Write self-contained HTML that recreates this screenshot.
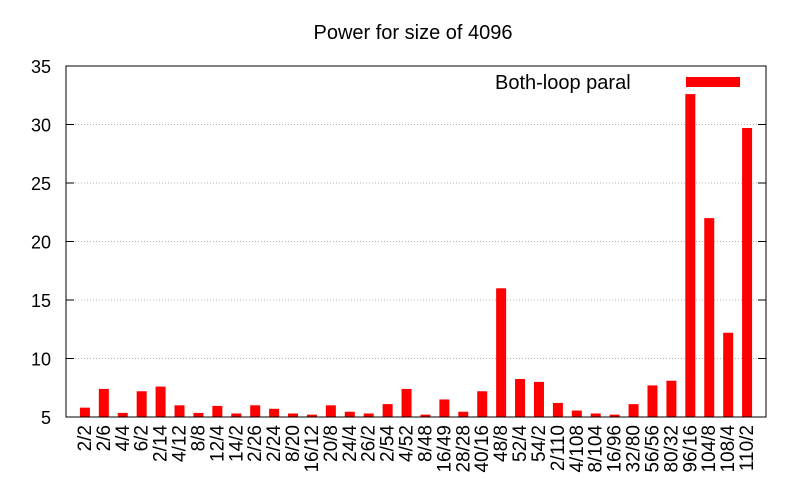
<!DOCTYPE html>
<html><head><meta charset="utf-8"><style>
body{margin:0;background:#fff;}
svg{display:block;font-family:"Liberation Sans",sans-serif;}
</style></head><body>
<svg id="chart" width="800" height="500"></svg>
<script>
const categories=["2/2","2/6","4/4","6/2","2/14","4/12","8/8","12/4","14/2","2/26","2/24","8/20","16/12","20/8","24/4","26/2","2/54","4/52","8/48","16/49","28/28","40/16","48/8","52/4","54/2","2/110","4/108","8/104","16/96","32/80","56/56","80/32","96/16","104/8","108/4","110/2"];
const values=[5.8,7.4,5.35,7.2,7.6,6.0,5.35,5.95,5.3,6.0,5.7,5.3,5.2,6.0,5.45,5.3,6.1,7.4,5.2,6.5,5.45,7.2,16.0,8.25,8.0,6.2,5.55,5.3,5.2,6.1,7.7,8.1,32.6,22.0,12.2,29.7];
const yTicks=[5,10,15,20,25,30,35];
const NS="http://www.w3.org/2000/svg";
const svg=document.getElementById('chart');
const L=66,R=766,T=66,B=417,yMin=5,yMax=35;
const y=v=>B-(v-yMin)/(yMax-yMin)*(B-T);
const step=(R-L)/(categories.length+1);
const x=i=>L+(i+1)*step;
function mk(tag,attrs,parent){const e=document.createElementNS(NS,tag);for(const k in attrs)e.setAttribute(k,attrs[k]);(parent||svg).appendChild(e);return e;}
yTicks.forEach(t=>{
  if(t>yMin&&t<yMax){const g=mk('line',{x1:L,x2:R,y1:y(t),y2:y(t),stroke:'#999','stroke-width':0.8,'stroke-dasharray':'1,2'});
  
  }
  mk('line',{x1:L,x2:L+8,y1:y(t),y2:y(t),stroke:'#000'});
  mk('line',{x1:R,x2:R-8,y1:y(t),y2:y(t),stroke:'#000'});
  const tx=mk('text',{x:51,y:y(t)+7,'text-anchor':'end','font-size':18});
  tx.textContent=t;
  
  
});
values.forEach((v,i)=>{
  const r=mk('rect',{x:x(i)-5,width:10,y:y(v),height:B-y(v),fill:'#ff0000'});
  
  
  const tx=mk('text',{transform:`translate(${x(i)+6},425) rotate(-90)`,'text-anchor':'end','font-size':19});
  tx.textContent=categories[i];
  
  
});
const fr=mk('rect',{x:L,y:T,width:R-L,height:B-T,fill:'none',stroke:'#000','stroke-width':1});


const ti=mk('text',{x:413,y:39,'text-anchor':'middle','font-size':20});
ti.textContent='Power for size of 4096';


const lt=mk('text',{x:495,y:89,'font-size':20});
lt.textContent='Both-loop paral';


const ls=mk('rect',{x:686,y:77,width:54,height:10,fill:'#ff0000'});


</script>
</body></html>
